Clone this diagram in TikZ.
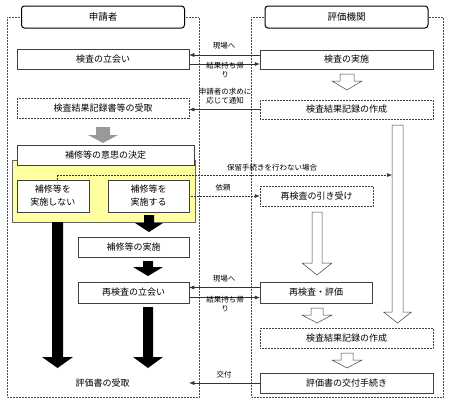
\documentclass[tikz,border=0pt]{standalone}
\usepackage{fontspec}
\setmainfont{Noto Sans CJK JP}
\usetikzlibrary{arrows.meta}

\begin{document}
\begin{tikzpicture}[x=1pt, y=-1pt,
  box/.style={draw=black!75, fill=white, line width=0.5pt, minimum height=20pt,
              inner sep=1pt, align=center, font=\fontsize{9}{13}\selectfont},
  dbox/.style={box, densely dotted},
  head/.style={draw, fill=white, line width=1pt, rounded corners=3pt,
               minimum width=163pt, minimum height=22pt, font=\fontsize{9.5}{11}\selectfont},
  lane/.style={draw=black!70, densely dotted, line width=0.5pt},
  link/.style={draw=black!80, line width=0.5pt, -{Latex[length=5pt,width=4pt]}},
  dlink/.style={link, densely dotted},
  lbl/.style={inner sep=0pt, align=center, font=\fontsize{7.5}{9}\selectfont},
  hollow/.style={draw=black!75, fill=white, line width=0.5pt},
  barrow/.style={fill=black},
  garrow/.style={fill=black!40},
]
\useasboundingbox (0,0) rectangle (450,405);

% lanes
\draw[lane] (7,17) rectangle (199,397);
\draw[lane] (251,17) rectangle (443,397);
\node[head] (hA) at (103,17)   {申請者};
\node[head] (hB) at (346.5,17) {評価機関};

% yellow group
\draw[draw=black!60, fill={rgb,255:red,255;green,255;blue,160}, line width=0.5pt]
  (12,160) rectangle (195,222);

% applicant side
\node[box,  minimum width=172pt] (a1) at (103,59.5)   {検査の立会い};
\node[dbox, minimum width=172pt] (a2) at (103,108.5)  {検査結果記録書等の受取};
\node[box,  minimum width=177pt] (a3) at (105.5,155)  {補修等の意思の決定};
\node[box,  minimum width=72pt, minimum height=32pt] (a4) at (53,196)    {補修等を\\実施しない};
\node[box,  minimum width=81pt, minimum height=32pt] (a5) at (148.5,196) {補修等を\\実施する};
\node[box,  minimum width=111pt] (a6) at (133.5,247)  {補修等の実施};
\node[box,  minimum width=111pt, minimum height=21pt] (a7) at (133.5,292.5) {再検査の立会い};
\node[box,  minimum width=173pt, double, double distance=1.2pt] (a8) at (102.5,383) {評価書の受取};

% evaluation body side
\node[box,  minimum width=173pt, minimum height=19pt] (b1) at (346.5,59.5)  {検査の実施};
\node[dbox, minimum width=173pt, minimum height=19pt] (b2) at (346.5,109.5) {検査結果記録の作成};
\node[dbox, minimum width=113pt] (b3) at (316.5,196)  {再検査の引き受け};
\node[box,  minimum width=112pt, minimum height=21pt] (b4) at (316,292.5) {再検査・評価};
\node[dbox, minimum width=173pt] (b5) at (346.5,338)  {検査結果記録の作成};
\node[box,  minimum width=173pt] (b6) at (346.5,383)  {評価書の交付手続き};

% block arrows
\foreach \x/\ya/\yb/\s/\h/\l in {347/74/90/7/15/9, 397.5/125/323/5.5/14/11,
    317/212/275/5/15/12, 317/308/323/6/15/8, 347/353/368/6/15/8}
  \draw[hollow] (\x-\s,\ya) -- (\x+\s,\ya) -- (\x+\s,\yb-\l) -- (\x+\h,\yb-\l)
    -- (\x,\yb) -- (\x-\h,\yb-\l) -- (\x-\s,\yb-\l) -- cycle;
\foreach \x/\ya/\yb/\s/\h/\l in {149/215/232/5/14/9, 148/261/276/5/15/9,
    148/307/368/5/15/11, 57.5/222/368/5.5/15.5/11}
  \fill[barrow] (\x-\s,\ya) -- (\x+\s,\ya) -- (\x+\s,\yb-\l) -- (\x+\h,\yb-\l)
    -- (\x,\yb) -- (\x-\h,\yb-\l) -- (\x-\s,\yb-\l) -- cycle;
\foreach \x/\ya/\yb/\s/\h/\l in {103/127/143/7/15/8}
  \fill[garrow] (\x-\s,\ya) -- (\x+\s,\ya) -- (\x+\s,\yb-\l) -- (\x+\h,\yb-\l)
    -- (\x,\yb) -- (\x-\h,\yb-\l) -- (\x-\s,\yb-\l) -- cycle;

% connectors
\coordinate (hold) at (392,175);
\draw[link] ([yshift=4.5pt]b1.west) -- ([yshift=4.5pt]a1.east);
\draw[link] ([yshift=-4.5pt]a1.east) -- ([yshift=-4.5pt]b1.west);
\draw[link] (b2.west) -- (b2.west -| a2.east);
\draw[dlink] ([xshift=4pt]a4.north) |- (hold);
\draw[dlink] (a5.east) -- (b3.west);
\draw[link] ([yshift=5pt]b4.west) -- ([yshift=5pt]a7.east);
\draw[link] ([yshift=-5pt]a7.east) -- ([yshift=-5pt]b4.west);
\draw[link] (b6.west) -- (a8.east);

% labels
\node[lbl] (l1) at (224,46)    {現場へ};
\node[lbl] (l2) at (225,70)    {結果持ち帰\\り};
\node[lbl] (l3) at (225,96.5)  {申請者の求めに\\応じて通知};
\node[lbl, anchor=west] (l4) at (227,168) {保留手続きを行わない場合};
\node[lbl] (l5) at (223,188)   {依頼};
\node[lbl] (l6) at (224,279)   {現場へ};
\node[lbl] (l7) at (225,304.5) {結果持ち帰\\り};
\node[lbl] (l8) at (224,375)   {交付};
\end{tikzpicture}
\end{document}
